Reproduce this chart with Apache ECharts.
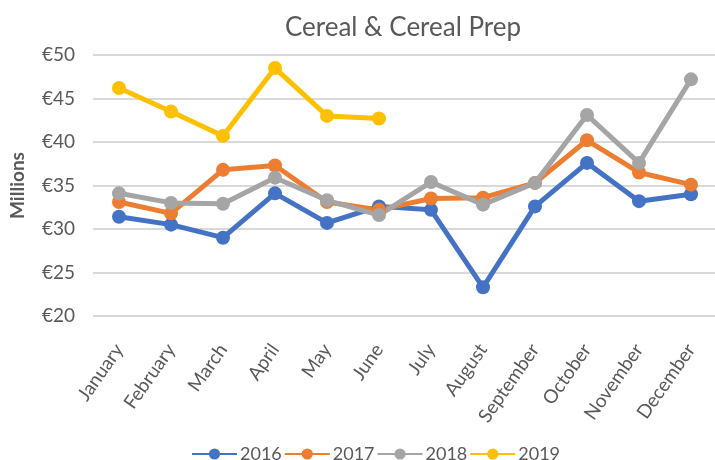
<!DOCTYPE html>
<html>
<head>
<meta charset="utf-8">
<script src="https://cdn.jsdelivr.net/npm/echarts@6/dist/echarts.min.js"></script>
<style>
html,body{margin:0;padding:0;background:#fff;}
#chart{width:715px;height:460px;}
</style>
</head>
<body>
<div id="chart"></div>
<script>
var months = ['January','February','March','April','May','June','July','August','September','October','November','December'];
var s2016 = [31.4, 30.5, 29.0, 34.1, 30.7, 32.6, 32.2, 23.3, 32.6, 37.6, 33.2, 34.0];
var s2017 = [33.1, 31.8, 36.8, 37.3, 33.1, 32.2, 33.5, 33.6, 35.3, 40.2, 36.5, 35.1];
var s2018 = [34.1, 33.0, 32.9, 35.9, 33.3, 31.6, 35.4, 32.8, 35.3, 43.1, 37.6, 47.2];
var s2019 = [46.2, 43.5, 40.7, 48.5, 43.0, 42.7, null, null, null, null, null, null];
var seriesNames = ['2016','2017','2018','2019'];
var colors = ['#4472C4','#ED7D31','#A5A5A5','#FFC000'];
var yTicks = {min: 20, max: 50, step: 5};

var FONT = 'Lato, "Open Sans", sans-serif';
var chart = echarts.init(document.getElementById('chart'));
var data = [s2016, s2017, s2018, s2019];
chart.setOption({
  animation: false,
  backgroundColor: '#fff',
  color: colors,
  title: {
    text: 'Cereal & Cereal Prep',
    left: 398, top: 10, textAlign: 'center',
    textStyle: {fontFamily: FONT, fontSize: 26, fontWeight: 'normal', color: '#595959'}
  },
  legend: {
    top: 440, left: 186,
    itemWidth: 45, itemHeight: 14, itemGap: 2,
    textStyle: {fontFamily: FONT, fontSize: 18, color: '#595959', padding: [0, 0, 0, -2]},
    data: seriesNames
  },
  grid: {left: 93, top: 55, width: 624, height: 261, containLabel: false, outerBoundsMode: 'none'},
  xAxis: {
    type: 'category', data: months, boundaryGap: true,
    axisLine: {show: false}, axisTick: {show: false},
    axisLabel: {rotate: 55, margin: 30, fontFamily: FONT, fontSize: 19, color: '#595959', interval: 0}
  },
  yAxis: {
    type: 'value', min: yTicks.min, max: yTicks.max, interval: yTicks.step,
    name: 'Millions', nameLocation: 'middle', nameRotate: 90, nameGap: 66,
    nameTextStyle: {fontFamily: FONT, fontSize: 19, fontWeight: 'bold', color: '#595959'},
    axisLine: {show: false}, axisTick: {show: false},
    axisLabel: {formatter: '€{value}', margin: 18, fontFamily: FONT, fontSize: 19, color: '#595959'},
    splitLine: {lineStyle: {color: '#d9d9d9', width: 2}}
  },
  series: data.map(function(d, i){
    return {
      name: seriesNames[i], type: 'line', data: d,
      symbol: 'circle', symbolSize: 14,
      lineStyle: {width: 5, color: colors[i]},
      itemStyle: {color: colors[i]},
      connectNulls: false
    };
  })
});
</script>
</body>
</html>
